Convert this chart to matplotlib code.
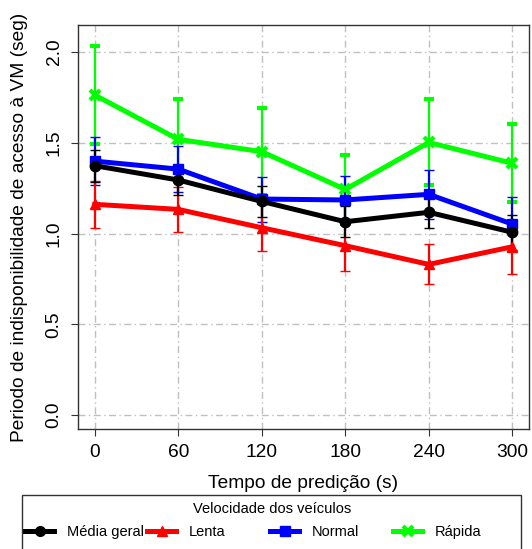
import matplotlib
matplotlib.use("Agg")
import matplotlib.pyplot as plt
from matplotlib.patches import Rectangle
from matplotlib.lines import Line2D

plt.rcParams['font.family'] = ['Liberation Sans', 'DejaVu Sans']

# data
tempos = [0, 60, 120, 180, 240, 300]
media = [1.374, 1.295, 1.177, 1.065, 1.117, 1.007]
media_err = [0.089, 0.083, 0.085, 0.085, 0.087, 0.095]
lenta = [1.161, 1.133, 1.032, 0.933, 0.830, 0.927]
lenta_err = [0.130, 0.125, 0.128, 0.140, 0.110, 0.149]
normal = [1.399, 1.355, 1.190, 1.185, 1.216, 1.052]
normal_err = [0.133, 0.127, 0.124, 0.130, 0.136, 0.148]
rapida = [1.763, 1.519, 1.451, 1.243, 1.502, 1.387]
rapida_err = [0.270, 0.220, 0.240, 0.190, 0.237, 0.215]
y_ticks = [0.0, 0.5, 1.0, 1.5, 2.0]

W, H = 532, 549
fig = plt.figure(figsize=(W / 100, H / 100), dpi=100)
ax = fig.add_axes([78 / W, 1 - 429 / H, (529 - 78) / W, (429 - 25) / H])

series = [
    ("Rápida", rapida, rapida_err, "#00ff00", "x"),
    ("Normal", normal, normal_err, "#0000ff", "s"),
    ("Lenta", lenta, lenta_err, "#ff0000", "^"),
    ("Média geral", media, media_err, "black", "o"),
]

grid_style = dict(color="#c0c0c0", lw=1.0, ls=(0, (5, 2.5, 1, 2.5)), zorder=0)
for t in tempos:
    ax.axvline(t, **grid_style)
for v in y_ticks:
    ax.axhline(v, **grid_style)

handles = {}
for nome, vals, errs, cor, mk in series:
    ax.errorbar(tempos, vals, yerr=errs, color=cor, lw=3.6, marker=mk,
                ms=7.5, mew=3 if mk == "x" else 1, mec=cor,
                elinewidth=1.6, capsize=3.3, capthick=1.6, zorder=3)
    handles[nome] = Line2D([], [], color=cor, lw=3.6, marker=mk, ms=7,
                           mew=3 if mk == "x" else 1, mec=cor)

ax.set_xlim(-12, 312)
ax.set_ylim(-0.077, 2.149)
ax.set_xticks(tempos)
ax.set_yticks(y_ticks)
ax.set_yticklabels([f"{v:.1f}" for v in y_ticks], rotation=90, va="center")
ax.tick_params(direction="out", length=5, width=0.8, labelsize=13.8, pad=6,
               color="#333333")
for s in ax.spines.values():
    s.set_color("#333333")
    s.set_linewidth(1.0)

ax.set_xlabel("Tempo de predição (s)", fontsize=13.8, va="center")
ax.set_ylabel("Periodo de indisponibilidade de acesso à VM (seg)", fontsize=13.8,
              va="center")
ax.xaxis.set_label_coords(0.5, (429 - 483) / 404)
ax.yaxis.set_label_coords((20 - 78) / 451, 0.5)

# legend box, running off the bottom like the original
fig.patches.append(Rectangle((22 / W, -0.05), (521 - 22) / W, 0.05 + 1 - 495 / H,
                             transform=fig.transFigure, fill=False,
                             ec="#333333", lw=1.0))
fig.text(272 / W, 1 - 509 / H, "Velocidade dos veículos", ha="center",
         va="center", fontsize=10.5)
ordem = ["Média geral", "Lenta", "Normal", "Rápida"]
x_inicio = [25, 147, 270, 393]
for nome, x0 in zip(ordem, x_inicio):
    fig.legend(handles=[handles[nome]], labels=[nome], loc="center left",
               bbox_to_anchor=(x0 / W, 1 - 532 / H), frameon=False,
               fontsize=10.5, handlelength=2.0, handletextpad=0.85,
               borderpad=0, borderaxespad=0)

fig.savefig("out.png", dpi=100)
